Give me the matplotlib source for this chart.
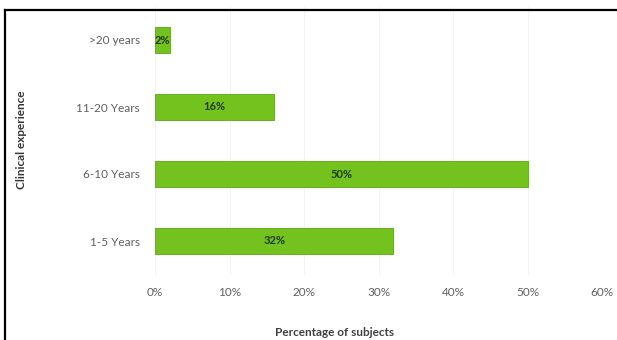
import matplotlib.pyplot as plt
from matplotlib.lines import Line2D

categories = ["1-5 Years", "6-10 Years", "11-20 Years", ">20 years"]
percentages = [32, 50, 16, 2]
xticks = [0, 10, 20, 30, 40, 50, 60]

plt.rcParams["font.family"] = ["Lato", "DejaVu Sans"]

W, H = 617, 340
fig = plt.figure(figsize=(W / 100, H / 100), dpi=100)
ax = fig.add_axes([155 / W, 1 - 274.5 / H, (602 - 155) / W, (274.5 - 6.5) / H])

ypos = range(len(categories))
bars = ax.barh(ypos, percentages, height=0.39, color="#74c21e",
               edgecolor="#68ad22", linewidth=0.7, zorder=3)

for bar, val in zip(bars, percentages):
    ax.text(bar.get_x() + bar.get_width() / 2, bar.get_y() + bar.get_height() / 2,
            f"{val}%", ha="center", va="center", fontsize=8,
            fontweight="bold", color="#1e3a10", zorder=4)

ax.set_xlim(0, 60)
ax.set_ylim(-0.5, 3.5)
ax.set_xticks(xticks)
ax.set_xticklabels([f"{t}%" for t in xticks])
ax.set_yticks(list(ypos))
ax.set_yticklabels(categories)
ax.tick_params(axis="both", length=0, labelsize=8.5, labelcolor="#606060")
ax.tick_params(axis="y", pad=11)
ax.tick_params(axis="x", pad=9)
ax.grid(axis="x", color="#f3f3f3", linewidth=0.8, zorder=0)
for s in ax.spines.values():
    s.set_visible(False)

fig.text(335 / W, 1 - 333 / H, "Percentage of subjects", ha="center",
         va="center", fontsize=8.5, fontweight="bold", color="#404040")
fig.text(22 / W, 1 - 140 / H, "Clinical experience", ha="center", va="center",
         rotation=90, fontsize=8.5, fontweight="bold", color="#353535")

# outer frame (top and left edges)
fig.add_artist(Line2D([5 / W, 5 / W], [0, 1 - 10 / H], color="black",
                      linewidth=1.6, transform=fig.transFigure))
fig.add_artist(Line2D([5 / W, 1], [1 - 10 / H, 1 - 10 / H], color="black",
                      linewidth=1.6, transform=fig.transFigure))

fig.savefig("out.png", dpi=100)
